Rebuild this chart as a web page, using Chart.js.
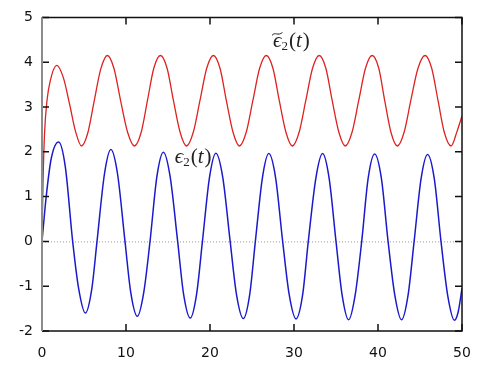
<!DOCTYPE html>
<html lang="en">
<head>
    <meta charset="UTF-8">
    <title>epsilon_2(t)</title>
    <script src="https://cdn.jsdelivr.net/npm/chart.js"></script>
    <style>
        body {
            margin: 0;
            background: white;
        }
        .wrap {
            width: 491px;
            height: 367px;
        }
    </style>
</head>
<body>
    <div class="wrap"><canvas id="chart"></canvas></div>

    <script>
        // axis ticks
        const xTicks = [0, 10, 20, 30, 40, 50];
        const yTicks = [-2, -1, 0, 1, 2, 3, 4, 5];

        // tilde epsilon_2(t), red curve
        const redT = [0, 0.12, 0.3, 0.6, 1.0, 1.75, 2.55, 3.3, 4.0, 4.7,
            5.45, 6.2, 7.0, 7.78, 8.57, 9.35, 10.2, 11.0,
            11.8, 12.55, 13.3, 14.1, 14.9, 15.65, 16.45, 17.2,
            18.0, 18.8, 19.6, 20.4, 21.2, 21.95, 22.75, 23.5,
            24.3, 25.1, 25.9, 26.7, 27.5, 28.25, 29.05, 29.8,
            30.6, 31.4, 32.2, 33.0, 33.8, 34.55, 35.35, 36.1,
            36.9, 37.7, 38.5, 39.3, 40.1, 40.8, 41.55, 42.3,
            43.1, 43.9, 44.75, 45.6, 46.4, 47.15, 47.9, 48.7,
            49.4, 50];
        const redV = [0, 1.3, 2.4, 3.15, 3.6, 3.93, 3.65, 3.05, 2.45, 2.13,
            2.42, 3.12, 3.85, 4.15, 3.86, 3.15, 2.43, 2.13,
            2.43, 3.14, 3.86, 4.15, 3.86, 3.14, 2.43, 2.13,
            2.43, 3.14, 3.86, 4.15, 3.86, 3.14, 2.43, 2.13,
            2.43, 3.14, 3.86, 4.15, 3.86, 3.14, 2.43, 2.13,
            2.43, 3.14, 3.86, 4.15, 3.86, 3.14, 2.43, 2.13,
            2.43, 3.14, 3.86, 4.15, 3.86, 3.14, 2.43, 2.13,
            2.43, 3.14, 3.86, 4.15, 3.86, 3.14, 2.43, 2.13,
            2.45, 2.8];

        // epsilon_2(t), blue curve
        const blueT = [0, 0.5, 1.1, 1.98, 2.78, 3.65, 4.36, 5.16,
            5.92, 6.55, 7.44, 8.2, 8.99, 9.88, 10.56, 11.35,
            12.12, 12.86, 13.68, 14.45, 15.25, 16.15, 16.85, 17.65,
            18.41, 19.1, 19.94, 20.7, 21.52, 22.4, 23.15, 23.97,
            24.73, 25.4, 26.24, 27.0, 27.81, 28.65, 29.43, 30.24,
            31.03, 31.7, 32.61, 33.4, 34.18, 35.0, 35.73, 36.5,
            37.28, 38.06, 38.83, 39.6, 40.4, 41.2, 42.0, 42.8,
            43.58, 44.3, 45.13, 45.9, 46.7, 47.5, 48.3, 49.1,
            49.55, 50];
        const blueV = [0, 1.0, 1.85, 2.22, 1.66, 0, -1.05, -1.6,
            -1.07, 0, 1.51, 2.05, 1.51, 0, -1.13, -1.67,
            -1.13, 0, 1.45, 1.99, 1.45, 0, -1.17, -1.71,
            -1.17, 0, 1.43, 1.97, 1.43, 0, -1.18, -1.72,
            -1.18, 0, 1.42, 1.96, 1.42, 0, -1.19, -1.73,
            -1.19, 0, 1.42, 1.96, 1.41, 0, -1.2, -1.75,
            -1.2, 0, 1.41, 1.95, 1.41, 0, -1.2, -1.75,
            -1.2, 0, 1.4, 1.94, 1.4, 0, -1.21, -1.76,
            -1.57, -1.05];

        const toPoints = (ts, vs) => ts.map((t, i) => ({ x: t, y: vs[i] }));

        // frame, inward ticks and dotted zero line
        const framePlugin = {
            id: 'frame',
            beforeDatasetsDraw(chart) {
                const { ctx, chartArea: a, scales } = chart;
                const y0 = scales.y.getPixelForValue(0);
                ctx.save();
                ctx.strokeStyle = '#9a9a9a';
                ctx.lineWidth = 1;
                ctx.setLineDash([1, 2]);
                ctx.beginPath();
                ctx.moveTo(a.left, y0 + 0.5);
                ctx.lineTo(a.right, y0 + 0.5);
                ctx.stroke();
                ctx.restore();
            },
            afterDatasetsDraw(chart) {
                const { ctx, chartArea: a, scales } = chart;
                ctx.save();
                ctx.lineWidth = 1.5;
                ctx.strokeStyle = '#111';
                ctx.beginPath();
                ctx.moveTo(a.left, a.top);
                ctx.lineTo(a.right, a.top);
                ctx.lineTo(a.right, a.bottom);
                ctx.lineTo(a.left, a.bottom);
                ctx.stroke();
                // ticks
                const len = 7;
                ctx.beginPath();
                xTicks.forEach(v => {
                    const px = scales.x.getPixelForValue(v);
                    ctx.moveTo(px, a.bottom);
                    ctx.lineTo(px, a.bottom - len);
                    ctx.moveTo(px, a.top);
                    ctx.lineTo(px, a.top + len);
                });
                yTicks.forEach(v => {
                    const py = scales.y.getPixelForValue(v);
                    ctx.moveTo(a.left, py);
                    ctx.lineTo(a.left + len, py);
                    ctx.moveTo(a.right, py);
                    ctx.lineTo(a.right - len, py);
                });
                ctx.stroke();
                // left spine is grey in the original
                ctx.strokeStyle = '#8c8c8c';
                ctx.lineWidth = 2;
                ctx.beginPath();
                ctx.moveTo(a.left, a.top);
                ctx.lineTo(a.left, a.bottom);
                ctx.stroke();
                ctx.restore();

                drawLabel(ctx, true, scales.x.getPixelForValue(27.5), scales.y.getPixelForValue(4.33));
                drawLabel(ctx, false, scales.x.getPixelForValue(15.8), scales.y.getPixelForValue(1.75));
            }
        };

        // epsilon_2(t) label, optional tilde
        function drawLabel(ctx, tilde, x, y) {
            const serif = '"Liberation Serif", "DejaVu Serif", serif';
            const fs = 21;
            ctx.save();
            ctx.fillStyle = '#222';
            ctx.strokeStyle = '#222';
            ctx.textBaseline = 'alphabetic';
            ctx.font = 'italic ' + fs + 'px ' + serif;
            const eps = '\u03F5';
            ctx.fillText(eps, x, y);
            const w = ctx.measureText(eps).width;
            if (tilde) {
                ctx.lineWidth = 1;
                ctx.beginPath();
                ctx.moveTo(x - 1, y - 12);
                ctx.bezierCurveTo(x + 2, y - 16, x + 5, y - 11, x + w + 1, y - 15);
                ctx.stroke();
            }
            ctx.font = '13px ' + serif;
            ctx.fillText('2', x + w, y + 3);
            const w2 = ctx.measureText('2').width;
            ctx.font = fs + 'px ' + serif;
            let cx = x + w + w2 + 1;
            ctx.fillText('(', cx, y);
            cx += ctx.measureText('(').width;
            ctx.font = 'italic ' + fs + 'px ' + serif;
            ctx.fillText('t', cx, y);
            cx += ctx.measureText('t').width + 1;
            ctx.font = fs + 'px ' + serif;
            ctx.fillText(')', cx, y);
            ctx.restore();
        }

        const tickFont = { family: '"DejaVu Sans", Verdana, sans-serif', size: 14 };

        new Chart(document.getElementById('chart'), {
            type: 'line',
            data: {
                datasets: [{
                    data: toPoints(redT, redV),
                    borderColor: '#dd2222',
                    borderWidth: 1.3,
                    pointRadius: 0,
                    cubicInterpolationMode: 'monotone'
                }, {
                    data: toPoints(blueT, blueV),
                    borderColor: '#1a1acc',
                    borderWidth: 1.5,
                    pointRadius: 0,
                    cubicInterpolationMode: 'monotone'
                }]
            },
            options: {
                responsive: true,
                maintainAspectRatio: false,
                animation: false,
                layout: { padding: { top: 17, right: 29, left: 0, bottom: 0 } },
                plugins: {
                    legend: { display: false },
                    tooltip: { enabled: false }
                },
                scales: {
                    x: {
                        type: 'linear',
                        min: 0,
                        max: 50,
                        border: { display: false },
                        grid: { display: false, drawTicks: false },
                        afterFit(scale) { scale.height = 36; },
                        afterBuildTicks(scale) { scale.ticks = xTicks.map(v => ({ value: v })); },
                        ticks: { color: '#111', font: tickFont, padding: 14, maxRotation: 0 }
                    },
                    y: {
                        min: -2,
                        max: 5,
                        border: { display: false },
                        grid: { display: false, drawTicks: false },
                        afterFit(scale) { scale.width = 42; },
                        afterBuildTicks(scale) { scale.ticks = yTicks.map(v => ({ value: v })); },
                        ticks: { color: '#111', font: tickFont, padding: 9 }
                    }
                }
            },
            plugins: [framePlugin]
        });
    </script>
</body>
</html>
